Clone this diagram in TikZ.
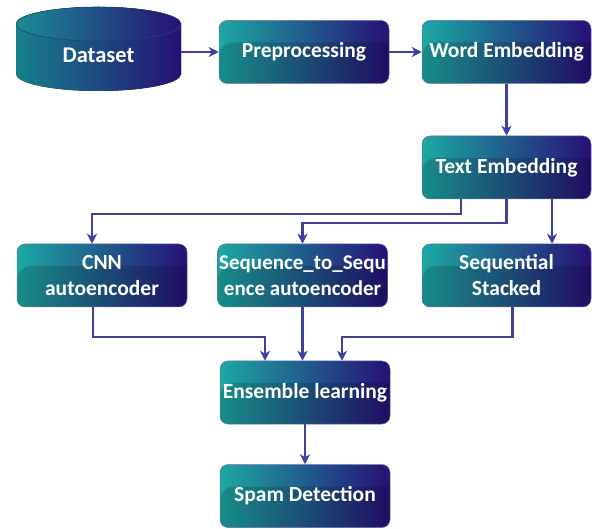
\documentclass[tikz,border=0pt]{standalone}
\usepackage{fontspec}
\setmainfont{Carlito}
\usetikzlibrary{arrows.meta,calc}
\definecolor{tealL}{RGB}{28,168,162}
\definecolor{navyR}{RGB}{38,16,118}
\definecolor{cylL}{RGB}{22,128,138}
\definecolor{cylTop}{RGB}{26,140,148}
\definecolor{cylEdge}{RGB}{30,70,110}
\definecolor{arrowc}{RGB}{62,66,158}
\definecolor{edgec}{RGB}{110,110,170}
\tikzset{
  box/.style={rectangle, rounded corners=8pt, minimum width=170pt, minimum height=63pt,
    inner xsep=0pt, inner ysep=2pt, left color=tealL, right color=navyR,
    draw=edgec, line width=0.5pt, text=white,
    font=\bfseries\fontsize{21.5}{26}\selectfont, align=center,
    path picture={\fill[black,opacity=0.16,rounded corners=14pt]
      ($(path picture bounding box.south west)+(0,10)$) rectangle
      ($(path picture bounding box.north east)+(20,22)$);}},
  arr/.style={draw=arrowc, line width=2.4pt, -{Stealth[length=10pt,width=10pt,inset=3pt]}},
  lbl/.style={text=white, font=\bfseries\fontsize{22.5}{26}\selectfont, inner sep=0pt}
}
\begin{document}
\begin{tikzpicture}[x=1pt,y=-1pt]
\useasboundingbox (0,0) rectangle (592,529);
% Dataset cylinder
\fill[left color=cylL, right color=navyR] (16,24) -- (16,74)
  arc[start angle=180, end angle=0, x radius=82.5, y radius=17] -- (181,24)
  arc[start angle=0, end angle=-180, x radius=82.5, y radius=17] -- cycle;
\draw[left color=cylTop, right color=navyR, draw=cylEdge, line width=0.6pt]
  (98.5,24) ellipse [x radius=82.5, y radius=17];
\node[lbl, minimum width=165pt] (ds) at (98.5,55) {Dataset};

\node[box] (pre) at (304,52) {Preprocessing};
\node[box, minimum width=169pt] (word) at (506.5,52) {Word Embedding};
\node[box, minimum width=169pt] (text) at (506.5,167.5) {Text Embedding};
\node[box] (cnn) at (102,275.5) {CNN\\autoencoder};
\node[box, font=\bfseries\fontsize{21}{26}\selectfont] (seq) at (302.5,275.5) {Sequence\_to\_Sequ\\ence autoencoder};
\node[box, minimum width=169pt] (sst) at (506.5,275.5) {Sequential\\Stacked};
\node[box] (ens) at (305,392.5) {Ensemble learning};
\node[box] (spam) at (305,496) {Spam Detection};

\draw[arr] (ds.east |- pre.west) -- (pre.west);
\draw[arr] (pre.east) -- (word.west);
\draw[arr] (word.south) -- (text.north);
\draw[arr] ([xshift=-45.5pt]text.south) -- ++(0,15) -| ([xshift=-10pt]cnn.north);
\draw[arr] (text.south) -- ++(0,24) -| (seq.north);
\draw[arr] ([xshift=45.5pt]text.south) -- ([xshift=45.5pt]text.south |- sst.north);
\draw[arr] ([xshift=-9pt]cnn.south) -- ++(0,30) -| ([xshift=-40pt]ens.north);
\draw[arr] (seq.south) -- (seq.south |- ens.north);
\draw[arr] ([xshift=6pt]sst.south) -- ++(0,30) -| ([xshift=37pt]ens.north);
\draw[arr] (ens.south) -- (spam.north);
\end{tikzpicture}
\end{document}
